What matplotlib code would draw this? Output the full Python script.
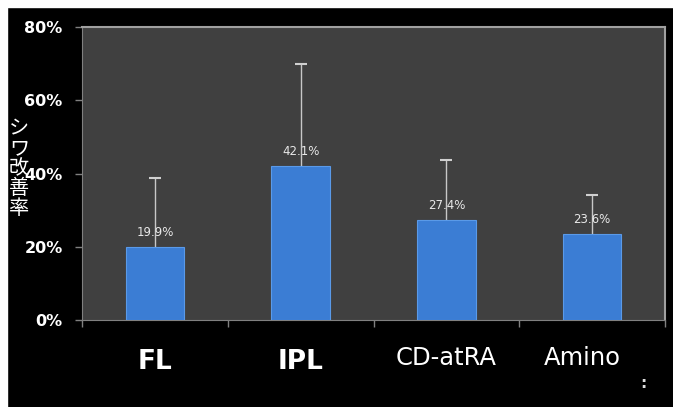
import matplotlib.pyplot as plt
import matplotlib.patches as patches
import numpy as np

plt.rcParams['font.family'] = ['DejaVu Sans', 'Noto Sans CJK JP']

# data
categories = ['FL', 'IPL', 'CD-atRA', 'Amino']
values = [19.9, 42.1, 27.4, 23.6]
errors = [19.0, 27.8, 16.4, 10.6]
ytick_vals = [0, 20, 40, 60, 80]
ytick_labels = ['0%', '20%', '40%', '60%', '80%']
ylabel_text = 'シワ改善率'

fig = plt.figure(figsize=(6.73, 4.07), dpi=100, facecolor='black')
# white margin at top and left of the slide
fig.patches.append(patches.Rectangle((0, 1 - 7 / 407), 1, 7 / 407,
                                     transform=fig.transFigure, color='white', zorder=-10))
fig.patches.append(patches.Rectangle((0, 0), 7 / 673, 1,
                                     transform=fig.transFigure, color='white', zorder=-10))

ax = fig.add_axes([82 / 673, 87 / 407, 583 / 673, 293 / 407])
ax.set_facecolor('#404040')

x = np.arange(len(categories))
ax.bar(x, values, width=0.4, color='#3b7dd4', edgecolor='#5a9ae8', linewidth=0.8, zorder=3)
# upper error bars only
tops = np.array(values) + np.array(errors)
ax.vlines(x, values, tops, color='#c8c8c8', linewidth=1, zorder=2)
ax.plot(x, tops, linestyle='none', marker='_', markersize=8, markeredgewidth=1.5,
        color='#d0d0d0', zorder=2)

for xi, v in zip(x, values):
    ax.text(xi, v + 2.2, f'{v:.1f}%', ha='center', va='bottom', color='#e8e8e8',
            fontsize=8.5, zorder=4)

ax.set_xlim(-0.5, len(categories) - 0.5)
ax.set_ylim(0, 80)
ax.set_yticks(ytick_vals)
ax.set_yticklabels(ytick_labels, color='white', fontsize=11.5, fontweight='bold')
ax.set_xticks(np.arange(len(categories) + 1) - 0.5, minor=True)
ax.set_xticks([])
ax.tick_params(axis='x', which='minor', length=5, color='#808080', width=1)
ax.tick_params(axis='y', length=5, color='#808080', width=1, pad=9)

for spine in ['left', 'bottom']:
    ax.spines[spine].set_color('#808080')
for spine in ['top', 'right']:
    ax.spines[spine].set_color('#a0a0a0')
    ax.spines[spine].set_linewidth(1.5)

# category labels
label_shift = [0, 0, 0, -0.07]
for xi, c, dx in zip(x, categories, label_shift):
    if c in ('FL', 'IPL'):
        ax.text(xi + dx, -11.5, c, ha='center', va='center', color='white',
                fontsize=19, fontweight='bold', clip_on=False)
    else:
        ax.text(xi + dx, -10.5, c, ha='center', va='center', color='white',
                fontsize=17.5, clip_on=False)

# vertical stacked y label
for i, ch in enumerate(ylabel_text):
    fig.text(19 / 673, 1 - (129 + i * 20) / 407, ch, ha='center', va='center',
             color='white', fontsize=14.5, family=['Noto Sans CJK JP', 'DejaVu Sans'])

fig.text(643 / 673, 1 - 384 / 407, ':', ha='center', va='center', color='#dddddd',
         fontsize=11, fontweight='bold')

fig.savefig('out.png', dpi=100, facecolor=fig.get_facecolor())
